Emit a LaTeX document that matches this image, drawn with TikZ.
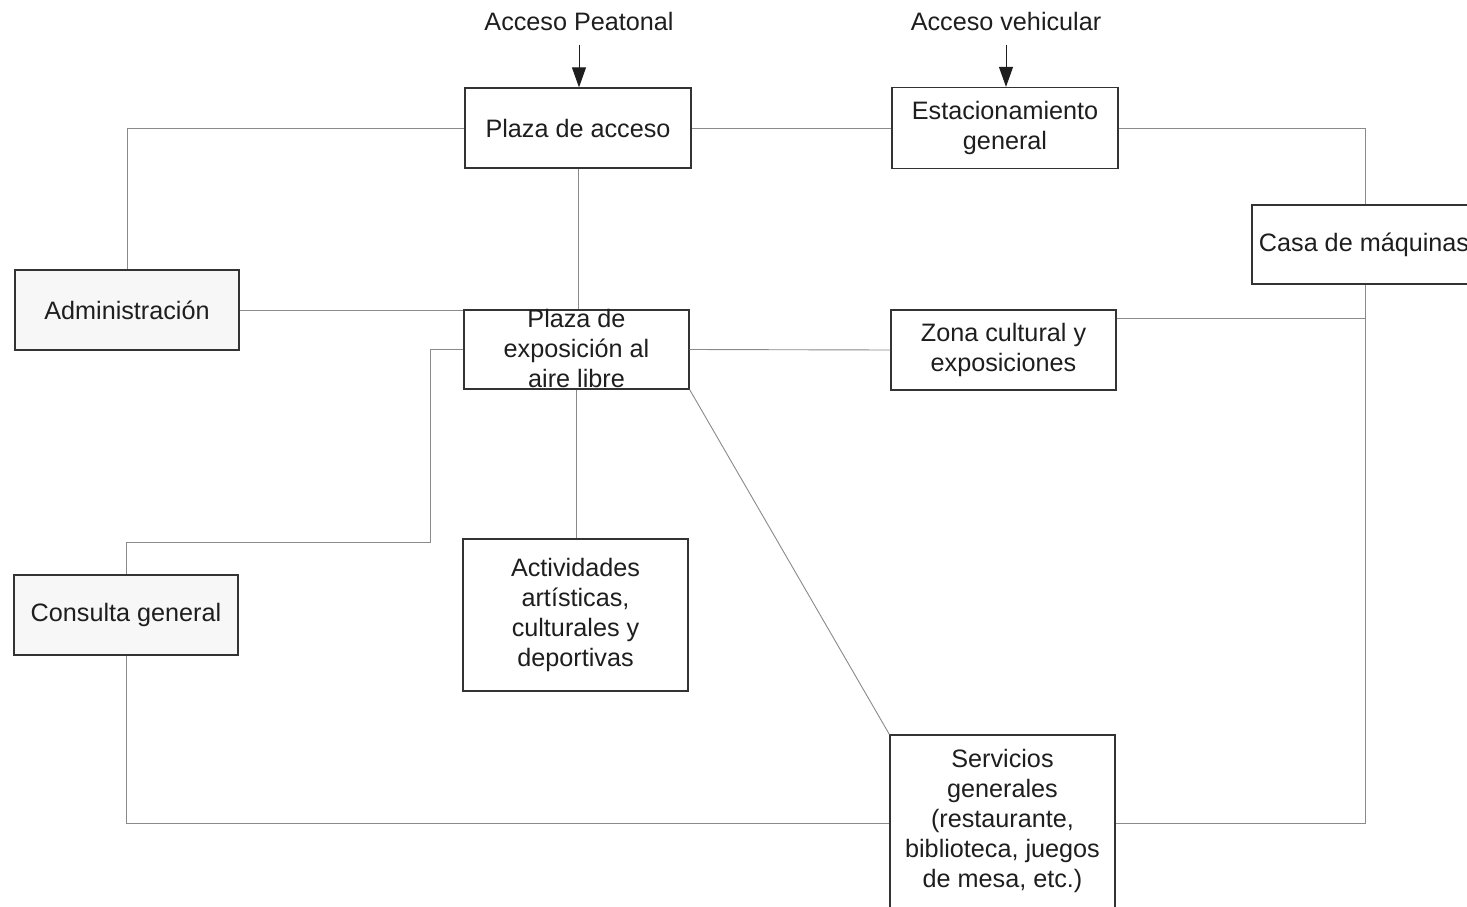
\documentclass[tikz,border=0pt]{standalone}
\usepackage{fontspec}
\setmainfont{Liberation Sans}
\usetikzlibrary{arrows.meta}
\definecolor{ink}{HTML}{1E1E1E}
\definecolor{edge}{HTML}{333333}
\definecolor{wire}{HTML}{8A8A8A}
\tikzset{
  box/.style={draw=edge, line width=1.3pt, fill=white, inner sep=0pt, align=center, text=ink,
    font=\fontsize{25.2}{30}\selectfont},
  shaded/.style={box, fill=black!3},
  lbl/.style={inner sep=0pt, align=center, text=ink, font=\fontsize{25.2}{30}\selectfont},
  wireline/.style={draw=wire, line width=0.9pt},
  accessarrow/.style={draw=ink, line width=1pt, -{Triangle[length=20pt,width=14pt]}}
}
\begin{document}
\begin{tikzpicture}[x=1pt,y=1pt]
\useasboundingbox (0,0) rectangle (1467,-907);
\fill[white] (0,0) rectangle (1467,-907);

% boxes
\node[box, minimum width=226pt, minimum height=80pt] (pa) at (578,-128) {Plaza de acceso};
\node[box, minimum width=226pt, minimum height=81pt] (est) at (1005,-128) {Estacionamiento\\general};
\node[box, minimum width=226pt, minimum height=79pt] (casa) at (1365,-244.5) {};
\node[lbl] (casat) at (1364,-244.5) {Casa de máquinas};
\node[shaded, minimum width=224pt, minimum height=80pt] (adm) at (127,-310) {Administración};
\node[box, minimum width=225pt, minimum height=79pt] (expo) at (576.5,-349.5) {};
\node[lbl] (expot) at (576.5,-348) {Plaza de\\exposición al\\aire libre};
\node[box, minimum width=225pt, minimum height=80pt] (zona) at (1003.5,-350) {Zona cultural y\\exposiciones};
\node[shaded, minimum width=224pt, minimum height=80pt] (cons) at (126,-615) {Consulta general};
\node[box, minimum width=225pt, minimum height=152pt] (acts) at (575.5,-615) {Actividades\\artísticas,\\culturales y\\deportivas};
\node[box, minimum width=225pt, minimum height=176pt] (serv) at (1002.5,-823) {};
\node[lbl] (servt) at (1002.5,-821) {Servicios\\generales\\(restaurante,\\biblioteca, juegos\\de mesa, etc.)};

% access labels
\node[lbl] (peat) at (579,-21) {Acceso Peatonal};
\node[lbl] (veh) at (1006,-21) {Acceso vehicular};

\coordinate (k1) at (430,-542);

% connectors
\draw[wireline] (pa.west) -| (adm.north);
\draw[wireline] (pa.east) -- (est.west);
\draw[wireline] (est.east) -| (casa.north);
\draw[wireline] (casa.south) |- (serv.east);
\draw[wireline] ([yshift=32pt]zona.east) -- ([yshift=32pt]zona.east -| casa.south);
\draw[wireline] (pa.south) -- (pa.south |- expo.north);
\draw[wireline] (adm.east) -- (adm.east -| expo.west);
\draw[wireline] (expo.west) -| (k1) -| (cons.north);
\draw[wireline] (expo.east) -- (zona.west);
\draw[wireline] (expo.south) -- (expo.south |- acts.north);
\draw[wireline] (expo.south east) -- (serv.north west);
\draw[wireline] (cons.south) |- (serv.west);

% arrows
\draw[accessarrow] (peat.south |- 0,-45) -- (peat.south |- pa.north);
\draw[accessarrow] (veh.south |- 0,-45) -- (veh.south |- est.north);
\end{tikzpicture}
\end{document}
